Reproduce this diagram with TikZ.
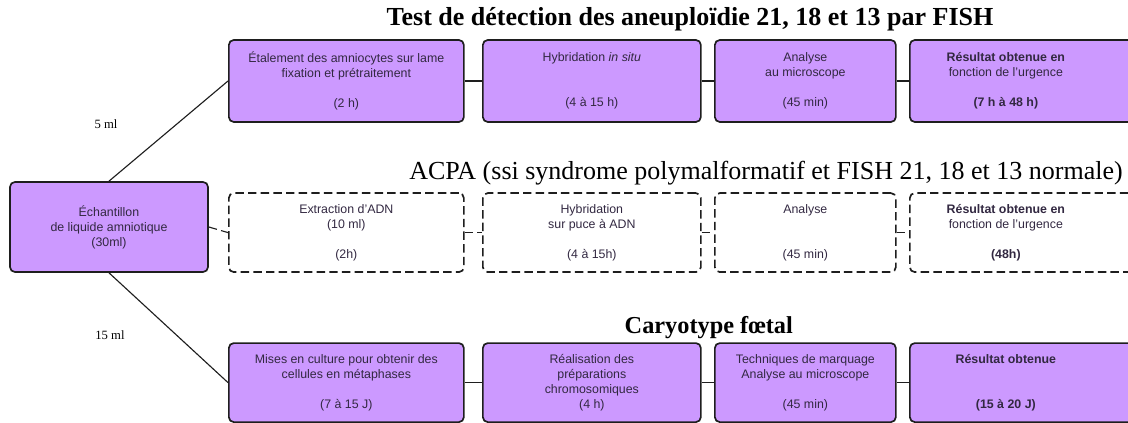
\documentclass[tikz,border=0pt]{standalone}
\usepackage{fontspec}
\setmainfont{Liberation Serif}
\setsansfont{Liberation Sans}
\usetikzlibrary{positioning}
\definecolor{BoxFill}{RGB}{204,153,255}
\definecolor{BoxText}{RGB}{50,40,65}
\definecolor{LineColor}{RGB}{30,30,30}

% last column: text sits left of the box centre
\newcommand{\lastcol}[1]{\begin{tabular}{@{}c@{}}#1\end{tabular}\hspace*{1.1cm}}

\begin{document}
\begin{tikzpicture}[
    box/.style={draw=LineColor, line width=1.2pt, fill=BoxFill, rounded corners=3.5pt,
      font=\sffamily\fontsize{8.8}{10.7}\selectfont, text=BoxText, align=center,
      minimum height=2.05cm, anchor=west, inner sep=2pt},
    dbox/.style={box, fill=none, dash pattern=on 6pt off 3pt, minimum height=1.975cm},
    title/.style={font=\fontsize{18.5}{22}\selectfont},
    titlebf/.style={font=\fontsize{18.5}{22}\selectfont\bfseries},
    vol/.style={font=\fontsize{9}{11}\selectfont},
    link/.style={line width=0.8pt, LineColor}]
  \useasboundingbox (0,0) rectangle (28.2,10.575);

  % sample
  \node[box, anchor=center, minimum width=4.95cm, minimum height=2.25cm] (ech) at (2.725,4.9)
    {Échantillon\\de liquide amniotique\\(30ml)};

  % FISH
  \node[titlebf] (tfish) at (17.25,10.1) {Test de détection des aneuploïdie 21, 18 et 13 par FISH};
  \node[box, minimum width=5.875cm] (fa) at (5.7,8.55)
    {Étalement des amniocytes sur lame\\fixation et prétraitement\\ \\(2 h)};
  \node[box, minimum width=5.45cm] (fb) at (12.05,8.55)
    {Hybridation \textit{in situ}\\ \\ \\(4 à 15 h)};
  \node[box, minimum width=4.525cm] (fc) at (17.85,8.55)
    {Analyse\\au microscope\\ \\(45 min)};
  \node[box, minimum width=5.9cm] (fd) at (22.725,8.55)
    {\lastcol{\textbf{Résultat obtenue en}\\fonction de l'urgence\\ \\\textbf{(7 h à 48 h)}}};

  % ACPA
  \node[title] (tacpa) at (19.15,6.25) {ACPA (ssi syndrome polymalformatif et FISH 21, 18 et 13 normale)};
  \node[dbox, minimum width=5.875cm] (aa) at (5.7,4.76)
    {Extraction d'ADN\\(10 ml)\\ \\(2h)};
  \node[dbox, minimum width=5.45cm] (ab) at (12.05,4.76)
    {Hybridation\\sur puce à ADN\\ \\(4 à 15h)};
  \node[dbox, minimum width=4.525cm] (ac) at (17.85,4.76)
    {Analyse\\ \\ \\(45 min)};
  \node[dbox, minimum width=5.9cm] (ad) at (22.725,4.76)
    {\lastcol{\textbf{Résultat obtenue en}\\fonction de l'urgence\\ \\\textbf{(48h)}}};

  % caryotype
  \node[titlebf, font=\fontsize{17.3}{21}\selectfont\bfseries] (tcaryo) at (17.72,2.38) {Caryotype fœtal};
  \node[box, minimum width=5.875cm, minimum height=1.975cm] (ka) at (5.7,1.01)
    {Mises en culture pour obtenir des\\cellules en métaphases\\ \\(7 à 15 J)};
  \node[box, minimum width=5.45cm, minimum height=1.975cm] (kb) at (12.05,1.01)
    {Réalisation des\\préparations\\chromosomiques\\(4 h)};
  \node[box, minimum width=4.525cm, minimum height=1.975cm] (kc) at (17.85,1.01)
    {Techniques de marquage\\Analyse au microscope\\ \\(45 min)};
  \node[box, minimum width=5.9cm, minimum height=1.975cm] (kd) at (22.725,1.01)
    {\lastcol{\textbf{Résultat obtenue}\\ \\ \\\textbf{(15 à 20 J)}}};

  % volumes
  \node[vol] (vfish) at (2.65,7.475) {5 ml};
  \node[vol] (vcaryo) at (2.75,2.2) {15 ml};

  % links
  \draw[link] (ech.north) -- (fa.west);
  \draw[link] (ech.south) -- (ka.west);
  \draw[link, dash pattern=on 6pt off 3pt] (ech.east) -- (aa.west);
  \foreach \u/\v in {fa/fb, fb/fc, fc/fd, ka/kb, kb/kc, kc/kd}
    \draw[link] (\u) -- (\v);
  \foreach \u/\v in {aa/ab, ab/ac, ac/ad}
    \draw[link, dash pattern=on 6pt off 3pt] (\u) -- (\v);
\end{tikzpicture}
\end{document}
